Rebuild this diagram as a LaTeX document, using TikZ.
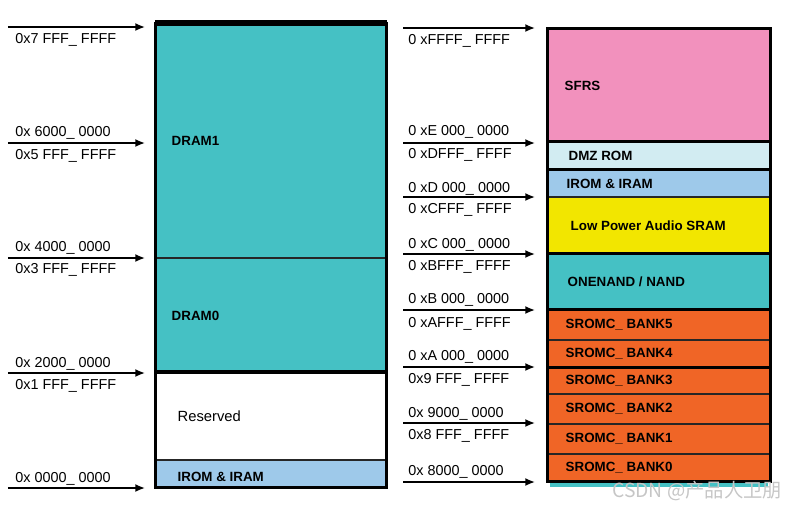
\documentclass[tikz,border=0pt]{standalone}
\usepackage{fontspec}
\setmainfont{Liberation Sans}
\newfontfamily\cjkfont{Noto Sans CJK SC}
\usepackage{tikz}
\usetikzlibrary{positioning,arrows.meta,fit}
\definecolor{teal1}{HTML}{45C1C4}
\definecolor{pink1}{HTML}{F291BD}
\definecolor{ice1}{HTML}{D2ECF2}
\definecolor{blue1}{HTML}{9EC9EA}
\definecolor{yellow1}{HTML}{F2E600}
\definecolor{orange1}{HTML}{F06526}

\begin{document}
\begin{tikzpicture}[
    x=0.02cm, y=-0.02cm,
    >={Latex[length=5.5pt,width=4.5pt]},
    region/.style={draw=black!85, line width=0.7pt, inner sep=0pt},
    arr/.style={->, line width=0.9pt},
    addr/.style={font=\fontsize{8.2}{9}\selectfont, anchor=west, inner sep=0pt},
    blk/.style={font=\bfseries\fontsize{7.6}{8.5}\selectfont, inner sep=0pt},
]
\useasboundingbox (0,0) rectangle (796,511);

% left map
\node[region, fill=teal1, fit={(156,24)(386,258)}] (dram1) {};
\node[region, fill=teal1, fit={(156,258)(386,373)}] (dram0) {};
\node[region, fill=white, fit={(156,373)(386,460)}] (resv) {};
\node[region, fill=blue1, fit={(156,460)(386,487)}] (irom1) {};

\draw[line width=2pt] (dram1.north west) rectangle (irom1.south east);
\draw[line width=3.5pt] (dram1.north west) -- (dram1.north east);
\draw[line width=2.2pt] (resv.north west) -- (resv.north east);

\node[blk, right=0.32cm of dram1.west] (n-dram1) {DRAM1};
\node[blk, right=0.32cm of dram0.west] (n-dram0) {DRAM0};
\node[blk, right=0.44cm of resv.west, font=\fontsize{8.4}{9}\selectfont]
    (n-resv) {Reserved};
\node[blk, right=0.44cm of irom1.west, yshift=-0.06cm] (n-irom1) {IROM \& IRAM};

\coordinate (la-s) at (8,27);  \coordinate (la-e) at (145,27);
\coordinate (lb-s) at (8,143); \coordinate (lb-e) at (145,143);
\coordinate (lc-s) at (8,258); \coordinate (lc-e) at (145,258);
\coordinate (ld-s) at (8,373); \coordinate (ld-e) at (145,373);
\coordinate (le-s) at (8,488); \coordinate (le-e) at (145,488);
\draw[arr] (la-s) -- (la-e);
\draw[arr] (lb-s) -- (lb-e);
\draw[arr] (lc-s) -- (lc-e);
\draw[arr] (ld-s) -- (ld-e);
\draw[arr] (le-s) -- (le-e);

\node[addr] (l7) at (15,40)  {0x7 FFF\_ FFFF};
\node[addr] (l6) at (15,133) {0x 6000\_ 0000};
\node[addr] (l5) at (15,156) {0x5 FFF\_ FFFF};
\node[addr] (l4) at (15,248) {0x 4000\_ 0000};
\node[addr] (l3) at (15,270) {0x3 FFF\_ FFFF};
\node[addr] (l2) at (15,364) {0x 2000\_ 0000};
\node[addr] (l1) at (15,386) {0x1 FFF\_ FFFF};
\node[addr] (l0) at (15,479) {0x 0000\_ 0000};

% right map
\node[region, fill=pink1, fit={(548,29)(770,142)}] (sfrs) {};
\node[region, fill=ice1, fit={(548,142)(770,170)}] (dmz) {};
\node[region, fill=blue1, fit={(548,170)(770,197)}] (irom2) {};
\node[region, fill=yellow1, fit={(548,197)(770,254)}] (lpa) {};
\node[region, fill=teal1, fit={(548,254)(770,310)}] (nand) {};
\node[region, fill=orange1, fit={(548,310)(770,340)}] (bank5) {};
\node[region, fill=orange1, fit={(548,340)(770,368)}] (bank4) {};
\node[region, fill=orange1, fit={(548,368)(770,394)}] (bank3) {};
\node[region, fill=orange1, fit={(548,394)(770,424)}] (bank2) {};
\node[region, fill=orange1, fit={(548,424)(770,454)}] (bank1) {};
\node[region, fill=orange1, fit={(548,454)(770,481)}] (bank0) {};
\node[fill=teal1, inner sep=0pt, fit={(550,482)(768,487)}] (strip) {};

\draw[line width=2pt] (sfrs.north west) rectangle (bank0.south east);
\draw[line width=2pt] (dmz.north west) -- (dmz.north east);
\draw[line width=1.4pt] (irom2.north west) -- (irom2.north east);
\draw[line width=1.8pt] (nand.north west) -- (nand.north east);
\draw[line width=1.3pt] (bank5.north west) -- (bank5.north east);
\draw[line width=1.3pt] (bank3.north west) -- (bank3.north east);

\node[blk, right=0.34cm of sfrs.west] (n-sfrs) {SFRS};
\node[blk, right=0.42cm of dmz.west] (n-dmz) {DMZ ROM};
\node[blk, right=0.38cm of irom2.west] (n-irom2) {IROM \& IRAM};
\node[blk, right=0.46cm of lpa.west] (n-lpa) {Low Power Audio SRAM};
\node[blk, right=0.40cm of nand.west] (n-nand) {ONENAND / NAND};
\node[blk, right=0.36cm of bank5.west] (n-bank5) {SROMC\_ BANK5};
\node[blk, right=0.36cm of bank4.west] (n-bank4) {SROMC\_ BANK4};
\node[blk, right=0.36cm of bank3.west] (n-bank3) {SROMC\_ BANK3};
\node[blk, right=0.36cm of bank2.west] (n-bank2) {SROMC\_ BANK2};
\node[blk, right=0.36cm of bank1.west] (n-bank1) {SROMC\_ BANK1};
\node[blk, right=0.36cm of bank0.west] (n-bank0) {SROMC\_ BANK0};

\coordinate (ra-s) at (403,28);  \coordinate (ra-e) at (535,28);
\coordinate (rb-s) at (403,143); \coordinate (rb-e) at (535,143);
\coordinate (rc-s) at (403,197); \coordinate (rc-e) at (535,197);
\coordinate (rd-s) at (403,254); \coordinate (rd-e) at (535,254);
\coordinate (re-s) at (403,310); \coordinate (re-e) at (535,310);
\coordinate (rf-s) at (403,367); \coordinate (rf-e) at (535,367);
\coordinate (rg-s) at (403,423); \coordinate (rg-e) at (535,423);
\coordinate (rh-s) at (403,482); \coordinate (rh-e) at (535,482);
\draw[arr] (ra-s) -- (ra-e);
\draw[arr] (rb-s) -- (rb-e);
\draw[arr] (rc-s) -- (rc-e);
\draw[arr] (rd-s) -- (rd-e);
\draw[arr] (re-s) -- (re-e);
\draw[arr] (rf-s) -- (rf-e);
\draw[arr] (rg-s) -- (rg-e);
\draw[arr] (rh-s) -- (rh-e);

\node[addr] (rF) at (408,41)  {0 xFFFF\_ FFFF};
\node[addr] (rE) at (408,132) {0 xE 000\_ 0000};
\node[addr] (rDF) at (408,155) {0 xDFFF\_ FFFF};
\node[addr] (rD) at (408,189) {0 xD 000\_ 0000};
\node[addr] (rCF) at (408,210) {0 xCFFF\_ FFFF};
\node[addr] (rC) at (408,245) {0 xC 000\_ 0000};
\node[addr] (rBF) at (408,267) {0 xBFFF\_ FFFF};
\node[addr] (rB) at (408,300) {0 xB 000\_ 0000};
\node[addr] (rAF) at (408,324) {0 xAFFF\_ FFFF};
\node[addr] (rA) at (408,357) {0 xA 000\_ 0000};
\node[addr] (r9F) at (408,380) {0x9 FFF\_ FFFF};
\node[addr] (r9) at (408,414) {0x 9000\_ 0000};
\node[addr] (r8F) at (408,436) {0x8 FFF\_ FFFF};
\node[addr] (r8) at (408,472) {0x 8000\_ 0000};

% watermark
\node[font=\cjkfont\fontsize{11}{12}\selectfont, text=gray!45, anchor=west,
      inner sep=0pt] (wm) at (612,491) {CSDN @产品人卫朋};
\end{tikzpicture}
\end{document}
